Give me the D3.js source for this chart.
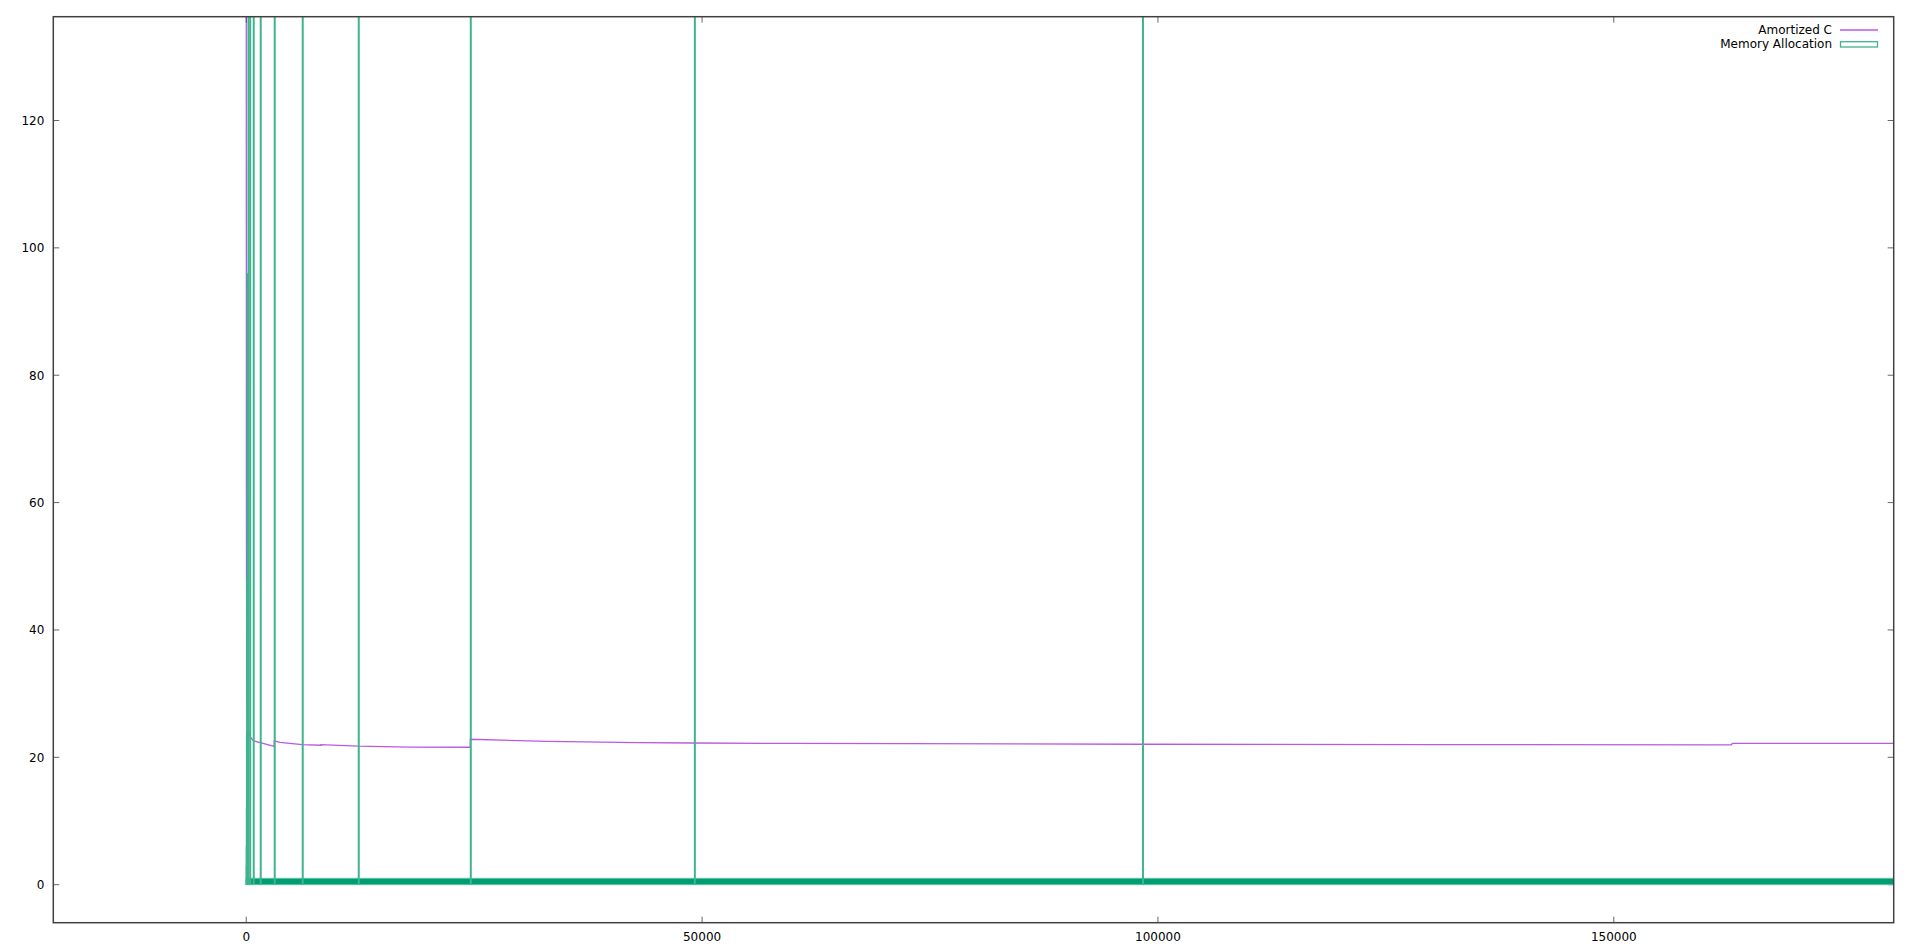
<!DOCTYPE html>
<html>
<head>
<meta charset="utf-8">
<script src="https://cdn.jsdelivr.net/npm/d3@7"></script>
<style>
  body { margin: 0; background: #fff; }
  text { font-family: "DejaVu Sans", sans-serif; font-size: 12px; fill: #000; }
</style>
</head>
<body>
<div id="chart"></div>
<script>
// amortized cost samples (n, cost)
var amortN = [1, 4, 8, 16, 24, 30, 60, 120, 250, 400, 768, 1536, 3071, 3072, 3700, 6144, 8191, 8192, 12288, 18000, 24575, 24576, 33000, 43000, 49000, 60000, 98000, 130000, 162900, 163000, 181000];
var amortC = [300, 200, 140, 90, 60, 48, 30, 26.3, 24.2, 23.3, 22.6, 22.3, 21.7, 22.6, 22.35, 22.0, 21.9, 22.0, 21.75, 21.6, 21.58, 22.84, 22.5, 22.3, 22.25, 22.18, 22.05, 22.0, 21.95, 22.2, 22.2];

// reallocation points (elements copied) and the per-insert cost
var allocN = [1, 3, 6, 12, 24, 48, 96, 192, 384, 768, 1536, 3072, 6144, 12288, 24576, 49152, 98304];
var allocCost = allocN.slice();
var baseCost = 1;
var nMax = 181000;

var xTicks = [0, 50000, 100000, 150000];
var yTicks = [0, 20, 40, 60, 80, 100, 120];

var margin = {top: 16.7, right: 24.3, bottom: 27.3, left: 53.3},
    width = 1918 - margin.left - margin.right,
    height = 950 - margin.top - margin.bottom;

var svg = d3.select("#chart")
  .append("svg")
    .attr("width", 1918)
    .attr("height", 950)
  .append("g")
    .attr("transform", "translate(" + margin.left + "," + margin.top + ")");

var x = d3.scaleLinear()
  .domain([-21160, 180700])
  .range([0, width]);

var y = d3.scaleLinear()
  .domain([-5.97, 136.3])
  .range([height, 0]);

svg.append("defs").append("clipPath")
    .attr("id", "clip")
  .append("rect")
    .attr("width", width)
    .attr("height", height);

// ticks, mirrored on all four sides, pointing inward
var tickLen = 6;
svg.selectAll(".ytick")
  .data(yTicks)
  .enter()
  .append("g")
  .each(function (d) {
    var g = d3.select(this);
    g.append("line").attr("x1", 0).attr("x2", tickLen).attr("y1", y(d)).attr("y2", y(d));
    g.append("line").attr("x1", width).attr("x2", width - tickLen).attr("y1", y(d)).attr("y2", y(d));
  })
  .selectAll("line").attr("stroke", "#666").attr("stroke-width", 1);

svg.selectAll(".ylab")
  .data(yTicks)
  .enter()
  .append("text")
    .attr("x", -9)
    .attr("y", function (d) { return y(d); })
    .attr("dy", "0.36em")
    .attr("text-anchor", "end")
    .text(function (d) { return d; });

svg.selectAll(".xtick")
  .data(xTicks)
  .enter()
  .append("g")
  .each(function (d) {
    var g = d3.select(this);
    g.append("line").attr("x1", x(d)).attr("x2", x(d)).attr("y1", height).attr("y2", height - tickLen);
    g.append("line").attr("x1", x(d)).attr("x2", x(d)).attr("y1", 0).attr("y2", tickLen);
  })
  .selectAll("line").attr("stroke", "#666").attr("stroke-width", 1);

svg.selectAll(".xlab")
  .data(xTicks)
  .enter()
  .append("text")
    .attr("x", function (d) { return x(d); })
    .attr("y", height + 18.5)
    .attr("text-anchor", "middle")
    .text(function (d) { return d; });

var plot = svg.append("g").attr("clip-path", "url(#clip)");

// Amortized C
var line = d3.line()
  .x(function (d, i) { return x(amortN[i]); })
  .y(function (d) { return y(d); });

plot.append("path")
  .datum(amortC)
  .attr("fill", "none")
  .attr("stroke", "#9400d3")
  .attr("stroke-opacity", 0.65)
  .attr("stroke-width", 1.3)
  .attr("d", line);

// Memory Allocation: unit boxes for every insert merge into one band
plot.append("rect")
  .attr("x", x(0))
  .attr("y", y(baseCost))
  .attr("width", x(nMax) - x(0))
  .attr("height", y(0) - y(baseCost))
  .attr("fill", "#009e73")
  .attr("stroke", "#5fc2a5")
  .attr("stroke-width", 1);

plot.selectAll(".alloc")
  .data(allocCost)
  .enter()
  .append("line")
    .attr("x1", function (d, i) { return x(allocN[i]) + 0.5; })
    .attr("x2", function (d, i) { return x(allocN[i]) + 0.5; })
    .attr("y1", y(0))
    .attr("y2", function (d) { return y(d); })
    .attr("stroke", "#3fb48e")
    .attr("stroke-width", 2);

// frame
svg.append("rect")
  .attr("width", width)
  .attr("height", height)
  .attr("fill", "none")
  .attr("stroke", "#404040")
  .attr("stroke-width", 1.5);

// legend
var legend = svg.append("g").attr("transform", "translate(" + (width - 53.7) + ",1)");
legend.append("text").attr("x", -8).attr("y", 16.6).attr("text-anchor", "end").text("Amortized C");
legend.append("line")
  .attr("x1", 0).attr("x2", 38).attr("y1", 12.3).attr("y2", 12.3)
  .attr("stroke", "#9400d3").attr("stroke-opacity", 0.65).attr("stroke-width", 1.3);
legend.append("text").attr("x", -8).attr("y", 30.6).attr("text-anchor", "end").text("Memory Allocation");
legend.append("rect")
  .attr("x", 0.5).attr("y", 24).attr("width", 37).attr("height", 5.3)
  .attr("fill", "none").attr("stroke", "#3fb48e").attr("stroke-width", 1.3);
</script>
</body>
</html>
